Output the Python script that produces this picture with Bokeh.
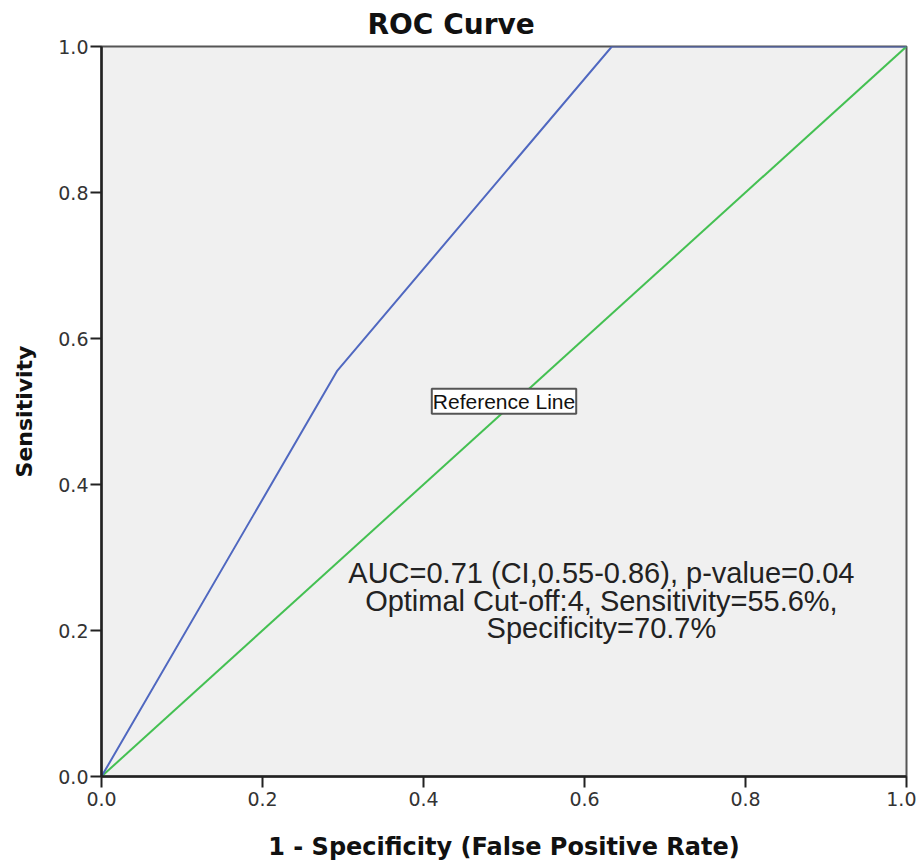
from bokeh.plotting import figure
from bokeh.models import Range1d, FixedTicker, PrintfTickFormatter, Label
from bokeh.embed import file_html
from bokeh.resources import INLINE

# ROC curve points (1 - specificity, sensitivity)
roc_fpr = [0.0, 0.293, 0.634, 1.0]
roc_tpr = [0.0, 0.556, 1.0, 1.0]
# Reference (chance) line
ref_x = [0.0, 1.0]
ref_y = [0.0, 1.0]
ticks = [0.0, 0.2, 0.4, 0.6, 0.8, 1.0]
ref_label_pos = (0.5, 0.514)
annot_pos = (0.621, 0.241)
annot_lines = ["AUC=0.71 (CI,0.55-0.86), p-value=0.04",
               "Optimal Cut-off:4, Sensitivity=55.6%,",
               "Specificity=70.7%"]

FONT = "Liberation Sans"
BOLDFONT = "DejaVu Sans"

p = figure(output_backend="svg", toolbar_location=None,
           frame_width=805, frame_height=730,
           x_range=Range1d(0, 1), y_range=Range1d(0, 1),
           min_border_left=101, min_border_right=10,
           min_border_top=46, min_border_bottom=84,
           background_fill_color="#F0F0F0", border_fill_color="white",
           title="ROC Curve")

p.title.align = "left"
p.title.offset = 266
p.title.text_font = BOLDFONT
p.title.text_font_size = "28px"
p.title.text_font_style = "bold"
p.title.text_color = "#111111"
p.title.standoff = 11

p.grid.visible = False
p.outline_line_color = "#555555"
p.outline_line_width = 2

for ax in (p.xaxis, p.yaxis):
    ax.ticker = FixedTicker(ticks=ticks)
    ax.formatter = PrintfTickFormatter(format="%.1f")
    ax.minor_tick_line_color = None
    ax.major_tick_in = 0
    ax.major_tick_out = 11
    ax.major_tick_line_width = 2
    ax.major_tick_line_color = "#222222"
    ax.axis_line_width = 2.5
    ax.axis_line_color = "#222222"
    ax.major_label_text_font = BOLDFONT
    ax.major_label_text_font_size = "19px"
    ax.major_label_text_color = "#333333"
    ax.axis_label_text_font = BOLDFONT
    ax.axis_label_text_font_style = "bold"
    ax.axis_label_text_color = "#111111"

p.xaxis.axis_label = "1 - Specificity (False Positive Rate)"
p.yaxis.axis_label = "Sensitivity"
p.xaxis.axis_label_text_font_size = "24px"
p.yaxis.axis_label_text_font_size = "22px"
p.xaxis.major_label_standoff = 4
p.yaxis.major_label_standoff = 2
p.xaxis.axis_label_standoff = 24
p.yaxis.axis_label_standoff = 18
p.yaxis.major_label_orientation = "horizontal"

p.line(ref_x, ref_y, line_color="#44C052", line_width=2)
p.line(roc_fpr, roc_tpr, line_color="#5068C0", line_width=2)

p.add_layout(Label(x=ref_label_pos[0], y=ref_label_pos[1], text="Reference Line",
                   text_align="center", text_baseline="middle",
                   text_font=FONT, text_font_size="21px", text_color="#111111",
                   background_fill_color="white", border_line_color="#555555",
                   border_line_width=2, padding=1))

p.add_layout(Label(x=annot_pos[0], y=annot_pos[1], text="\n".join(annot_lines),
                   text_align="center", text_baseline="middle",
                   text_font=FONT, text_font_size="29px", text_color="#222222",
                   text_line_height=0.87))

open("out.html", "w").write(file_html(p, INLINE))
